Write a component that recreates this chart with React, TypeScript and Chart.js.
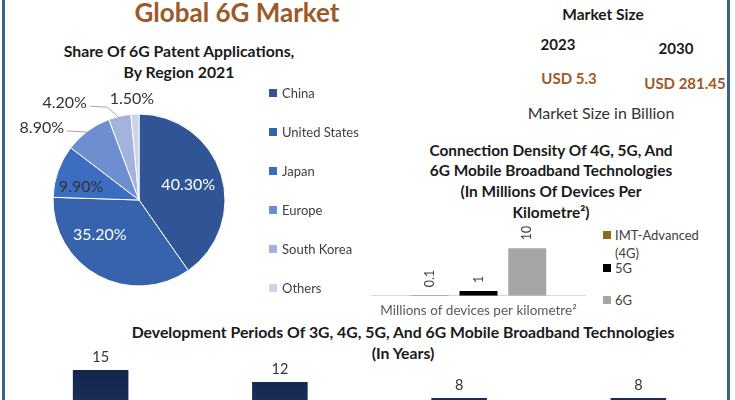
import React, { useEffect, useRef } from "react";
import { Chart, registerables } from "chart.js";

Chart.register(...registerables);

// ---------- data ----------
const REGIONS = ["China", "United States", "Japan", "Europe", "South Korea", "Others"];
const PATENT_SHARE = [40.3, 35.2, 9.9, 8.9, 4.2, 1.5];
const REGION_COLORS = ["#2f5597", "#3763ad", "#3d6dc0", "#6d8fd2", "#a3b3dc", "#cdd4e9"];

const MARKET_YEARS = ["2023", "2030"];
const MARKET_VALUES = ["USD 5.3", "USD 281.45"];

const DENSITY_CATEGORY = ["Millions of devices per kilometre\u00b2"];
const TECHS = ["IMT-Advanced (4G)", "5G", "6G"];
const DENSITY = [0.1, 1, 10];
const DENSITY_COLORS = ["#8c6d1f", "#000000", "#a6a6a6"];

const GENERATIONS = ["3G", "4G", "5G", "6G"];
const DEV_YEARS = [15, 12, 8, 8];

// ---------- styles ----------
const FONT = "Lato, 'Open Sans', sans-serif";
const BROWN = "#9b5a28";
const TEXT = "#404040";

// label placement for pie slices (relative to slice geometry)
const PIE_LABEL_PLACEMENT = [
  { inside: true, r: 0.6, da: 0, color: "#ffffff" },
  { inside: true, r: 0.61, da: 20, color: "#ffffff" },
  { inside: true, r: 0.69, da: -7, color: "#333333" },
  { inside: false, dx: -46, dy: -3, line: true },
  { inside: false, dx: -55, dy: -13, line: true },
  { inside: false, dx: -3, dy: -15, line: false },
];

const pieLabelPlugin = {
  id: "pieLabels",
  afterDatasetsDraw(chart: any) {
    const ctx = chart.ctx;
    const meta = chart.getDatasetMeta(0);
    const values = chart.data.datasets[0].data;
    ctx.save();
    ctx.font = `16px ${FONT}`;
    ctx.textAlign = "center";
    ctx.textBaseline = "middle";
    meta.data.forEach((arc: any, i: number) => {
      const p = arc.getProps(["x", "y", "startAngle", "endAngle", "outerRadius"], true);
      const mid = (p.startAngle + p.endAngle) / 2;
      const pl = PIE_LABEL_PLACEMENT[i];
      const text = values[i].toFixed(2) + "%";
      if (pl.inside) {
        const a = mid + ((pl.da || 0) * Math.PI) / 180;
        const lx = p.x + Math.cos(a) * p.outerRadius * pl.r;
        const ly = p.y + Math.sin(a) * p.outerRadius * pl.r;
        ctx.fillStyle = pl.color;
        ctx.fillText(text, lx, ly);
      } else {
        const ex = p.x + Math.cos(mid) * p.outerRadius;
        const ey = p.y + Math.sin(mid) * p.outerRadius;
        const lx = ex + pl.dx;
        const ly = ey + pl.dy;
        if (pl.line) {
          const w = ctx.measureText(text).width;
          const sx = lx + w / 2 + 3;
          const sy = ly + 3;
          ctx.strokeStyle = "#a6a6a6";
          ctx.lineWidth = 1;
          ctx.beginPath();
          ctx.moveTo(sx, sy);
          ctx.lineTo(sx + 17, sy + 1);
          ctx.lineTo(ex - 1, ey + 1);
          ctx.stroke();
        }
        ctx.fillStyle = "#333333";
        ctx.fillText(text, lx, ly);
      }
    });
    ctx.restore();
  },
};

const rotatedLabelPlugin = {
  id: "rotatedLabels",
  afterDatasetsDraw(chart: any) {
    const ctx = chart.ctx;
    ctx.save();
    ctx.font = `12.5px ${FONT}`;
    ctx.fillStyle = TEXT;
    ctx.textAlign = "left";
    ctx.textBaseline = "middle";
    chart.data.datasets.forEach((ds: any, di: number) => {
      const meta = chart.getDatasetMeta(di);
      meta.data.forEach((bar: any, i: number) => {
        ctx.save();
        ctx.translate(bar.x, bar.y - 8);
        ctx.rotate(-Math.PI / 2);
        ctx.fillText(String(ds.data[i]), 0, 0);
        ctx.restore();
      });
    });
    ctx.restore();
  },
};

const topLabelPlugin = {
  id: "topLabels",
  afterDatasetsDraw(chart: any) {
    const ctx = chart.ctx;
    ctx.save();
    ctx.font = `14.5px ${FONT}`;
    ctx.fillStyle = "#333333";
    ctx.textAlign = "center";
    ctx.textBaseline = "middle";
    const ds = chart.data.datasets[0];
    chart.getDatasetMeta(0).data.forEach((bar: any, i: number) => {
      ctx.fillText(String(ds.data[i]), bar.x, bar.y - 13);
    });
    ctx.restore();
  },
};

function Txt(props: { x: number; y: number; size: number; bold?: boolean; color?: string; children: any; align?: string }) {
  const { x, y, size, bold, color, children, align } = props;
  return (
    <div
      style={{
        position: "absolute",
        left: x,
        top: y,
        transform: align === "left" ? "translate(0,-50%)" : "translate(-50%,-50%)",
        whiteSpace: "nowrap",
        fontSize: size,
        fontWeight: bold ? 700 : 400,
        color: color || TEXT,
        lineHeight: 1,
        fontFamily: FONT,
      }}
    >
      {children}
    </div>
  );
}

function Swatch(props: { x: number; y: number; color: string }) {
  return (
    <div
      style={{
        position: "absolute",
        left: props.x,
        top: props.y - 4,
        width: 8,
        height: 8,
        background: props.color,
      }}
    />
  );
}

export default function App() {
  const pieRef = useRef<HTMLCanvasElement>(null);
  const densRef = useRef<HTMLCanvasElement>(null);
  const devRef = useRef<HTMLCanvasElement>(null);

  useEffect(() => {
    const pie = new Chart(pieRef.current!, {
      type: "pie",
      data: {
        labels: REGIONS,
        datasets: [
          {
            data: PATENT_SHARE,
            backgroundColor: REGION_COLORS,
            borderColor: "#ffffff",
            borderWidth: 1,
          },
        ],
      },
      options: {
        responsive: false,
        animation: false,
        radius: 86,
        plugins: { legend: { display: false }, tooltip: { enabled: false } },
      } as any,
      plugins: [pieLabelPlugin],
    });

    const dens = new Chart(densRef.current!, {
      type: "bar",
      data: {
        labels: DENSITY_CATEGORY,
        datasets: TECHS.map((t, i) => ({
          label: t,
          data: [DENSITY[i]],
          backgroundColor: DENSITY_COLORS[i],
          categoryPercentage: 0.68,
          barPercentage: 0.78,
        })),
      },
      options: {
        responsive: false,
        animation: false,
        plugins: { legend: { display: false }, tooltip: { enabled: false } },
        scales: {
          x: {
            ticks: { display: false },
            grid: { display: false, drawTicks: false },
            border: { display: true, color: "#d9d9d9", width: 1 },
            title: {
              display: true,
              text: DENSITY_CATEGORY[0],
              color: "#595959",
              font: { family: FONT, size: 13.5 },
              padding: { top: 7, bottom: 2 },
            },
          },
          y: { display: false, min: 0, max: 17 },
        },
      } as any,
      plugins: [rotatedLabelPlugin],
    });

    const dev = new Chart(devRef.current!, {
      type: "bar",
      data: {
        labels: GENERATIONS,
        datasets: [
          {
            label: "Years",
            data: DEV_YEARS,
            backgroundColor: (c: any) => {
              const area = c.chart.chartArea;
              if (!area) return "#15274d";
              const g = c.chart.ctx.createLinearGradient(0, area.top, 0, area.bottom);
              g.addColorStop(0, "#0f1c3a");
              g.addColorStop(1, "#1e3566");
              return g;
            },
            categoryPercentage: 0.31,
            barPercentage: 1,
          },
        ],
      },
      options: {
        responsive: false,
        animation: false,
        plugins: { legend: { display: false }, tooltip: { enabled: false } },
        scales: {
          x: { display: false },
          y: { display: false, min: 0, max: 25 },
        },
      } as any,
      plugins: [topLabelPlugin],
    });

    return () => {
      pie.destroy();
      dens.destroy();
      dev.destroy();
    };
  }, []);

  return (
    <div
      style={{
        position: "absolute",
        left: 0,
        top: 0,
        width: 735,
        height: 400,
        overflow: "hidden",
        background: "#ffffff",
        fontFamily: FONT,
      }}
    >
      {/* frame lines */}
      <div style={{ position: "absolute", left: 2, top: 0, width: 3, height: 400, background: "#3d6288" }} />
      <div style={{ position: "absolute", left: 727, top: 0, width: 3, height: 400, background: "#3d6288" }} />

      <Txt x={237} y={12} size={26} bold color={BROWN}>Global 6G Market</Txt>
      <Txt x={179} y={51} size={15.8} bold color="#1a1a1a">Share Of 6G Patent Applications,</Txt>
      <Txt x={179} y={72} size={15.8} bold color="#1a1a1a">By Region 2021</Txt>

      <canvas
        ref={pieRef}
        width={278}
        height={240}
        style={{ position: "absolute", left: 0, top: 80, width: 278, height: 240 }}
      />
      {REGIONS.map((r, i) => (
        <React.Fragment key={r}>
          <Swatch x={269} y={93 + i * 39} color={REGION_COLORS[i]} />
          <Txt x={282} y={93 + i * 39} size={13} align="left">{r}</Txt>
        </React.Fragment>
      ))}

      <Txt x={603} y={15} size={15.5} bold color="#1a1a1a">Market Size</Txt>
      <Txt x={558} y={44} size={15} bold color="#1a1a1a">{MARKET_YEARS[0]}</Txt>
      <Txt x={676} y={48} size={15} bold color="#1a1a1a">{MARKET_YEARS[1]}</Txt>
      <Txt x={569} y={78} size={15} bold color={BROWN}>{MARKET_VALUES[0]}</Txt>
      <Txt x={685} y={83} size={15} bold color={BROWN}>{MARKET_VALUES[1]}</Txt>
      <Txt x={601} y={113} size={16} color="#333333">Market Size in Billion</Txt>

      <Txt x={551} y={151} size={15.4} bold color="#1a1a1a">Connection Density Of 4G, 5G, And</Txt>
      <Txt x={551} y={171} size={15.4} bold color="#1a1a1a">6G Mobile Broadband Technologies</Txt>
      <Txt x={551} y={192} size={15.4} bold color="#1a1a1a">(In Millions Of Devices Per</Txt>
      <Txt x={551} y={213} size={15.4} bold color="#1a1a1a">Kilometre²)</Txt>

      <canvas
        ref={densRef}
        width={215}
        height={106}
        style={{ position: "absolute", left: 371, top: 215, width: 215, height: 106 }}
      />
      <Swatch x={603} y={235} color={DENSITY_COLORS[0]} />
      <Txt x={615} y={235} size={13} align="left">IMT-Advanced</Txt>
      <Txt x={615} y={253} size={13} align="left">(4G)</Txt>
      <Swatch x={603} y={268} color={DENSITY_COLORS[1]} />
      <Txt x={615} y={268} size={13} align="left">{TECHS[1]}</Txt>
      <Swatch x={603} y={300} color={DENSITY_COLORS[2]} />
      <Txt x={615} y={300} size={13} align="left">{TECHS[2]}</Txt>

      <Txt x={403} y={332} size={15.8} bold color="#1a1a1a">
        Development Periods Of 3G, 4G, 5G, And 6G Mobile Broadband Technologies
      </Txt>
      <Txt x={403} y={353} size={15.8} bold color="#1a1a1a">(In Years)</Txt>

      <canvas
        ref={devRef}
        width={717}
        height={100}
        style={{ position: "absolute", left: 11, top: 330, width: 717, height: 100 }}
      />
    </div>
  );
}
